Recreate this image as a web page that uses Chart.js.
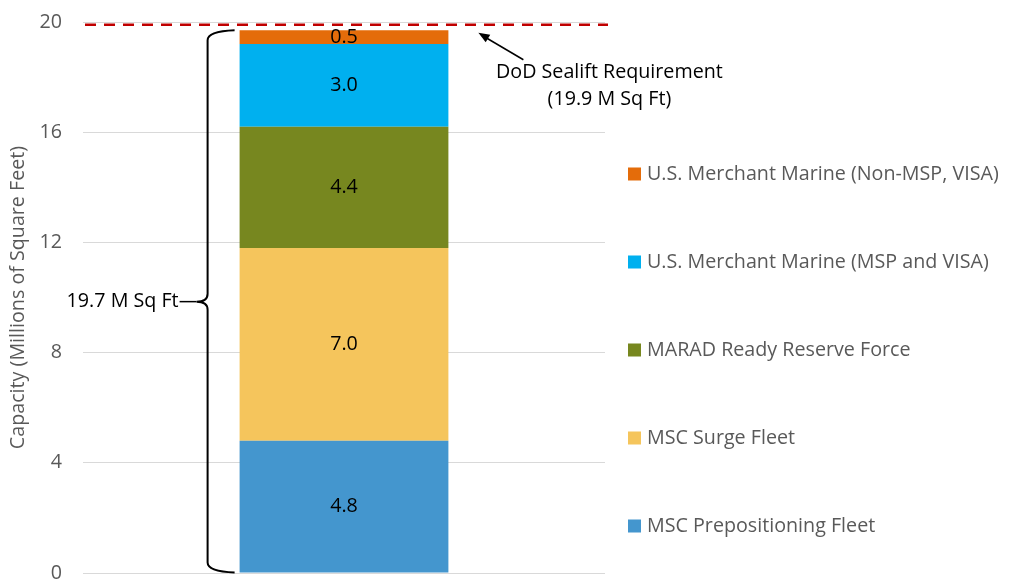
<!DOCTYPE html>
<html>
<head>
<meta charset="utf-8">
<script src="https://cdn.jsdelivr.net/npm/chart.js@4"></script>
<style>
  html, body { margin: 0; padding: 0; background: #fff; overflow: hidden; }
  #wrap { position: relative; width: 1010px; height: 579px; }
</style>
</head>
<body>
<div id="wrap"><canvas id="chart"></canvas></div>
<script>
// data
const categories = ['Capacity'];
const seriesNames = [
  'MSC Prepositioning Fleet',
  'MSC Surge Fleet',
  'MARAD Ready Reserve Force',
  'U.S. Merchant Marine (MSP and VISA)',
  'U.S. Merchant Marine (Non-MSP, VISA)'
];
const seriesValues = [4.8, 7.0, 4.4, 3.0, 0.5];
const seriesColors = ['#4496CE', '#F5C55C', '#77871F', '#00B0EF', '#E46C0A'];
const yTicks = [0, 4, 8, 12, 16, 20];
const requirement = 19.9;
const totalLabel = '19.7 M Sq Ft';
const reqLabel = ['DoD Sealift Requirement', '(19.9 M Sq Ft)'];

const FONT = '"Open Sans", sans-serif';
const FS = 19.7;

const datasets = seriesNames.map((name, i) => ({
  label: name,
  data: [seriesValues[i]],
  backgroundColor: seriesColors[i],
  borderWidth: 0,
  barPercentage: 0.4,
  categoryPercentage: 1
}));

// value labels, requirement line, brace, legend
const extras = {
  id: 'extras',
  afterDatasetsDraw(chart) {
    const ctx = chart.ctx;
    const y = chart.scales.y;
    const area = chart.chartArea;

    // labels inside segments
    ctx.save();
    ctx.font = FS + 'px ' + FONT;
    ctx.fillStyle = '#000';
    ctx.textAlign = 'center';
    ctx.textBaseline = 'middle';
    chart.data.datasets.forEach((ds, i) => {
      const bar = chart.getDatasetMeta(i).data[0];
      ctx.fillText(ds.data[0].toFixed(1), bar.x, (bar.y + bar.base) / 2);
    });
    ctx.restore();

    // requirement line
    const ry = y.getPixelForValue(requirement);
    ctx.save();
    ctx.strokeStyle = '#C00000';
    ctx.lineWidth = 2.5;
    ctx.setLineDash([11, 8]);
    ctx.beginPath();
    ctx.moveTo(area.left + 2, ry);
    ctx.lineTo(area.right + 3, ry);
    ctx.stroke();
    ctx.restore();

    // brace
    const first = chart.getDatasetMeta(0).data[0];
    const last = chart.getDatasetMeta(chart.data.datasets.length - 1).data[0];
    const xL = first.x - first.width / 2;
    const xR = first.x + first.width / 2;
    const total = seriesValues.reduce((a, b) => a + b, 0);
    const yTop = last.y;
    const yBot = first.base;
    const yMid = y.getPixelForValue(total / 2);
    const xV = xL - 32;
    const xTip = xV - 11;
    ctx.save();
    ctx.strokeStyle = '#000';
    ctx.lineWidth = 2;
    ctx.beginPath();
    ctx.moveTo(xL - 5, yTop);
    ctx.quadraticCurveTo(xV, yTop + 1, xV, yTop + 10);
    ctx.lineTo(xV, yMid - 8);
    ctx.quadraticCurveTo(xV, yMid, xTip, yMid);
    ctx.quadraticCurveTo(xV, yMid, xV, yMid + 8);
    ctx.lineTo(xV, yBot - 10);
    ctx.quadraticCurveTo(xV, yBot - 1, xL - 5, yBot);
    ctx.stroke();
    ctx.lineWidth = 1.5;
    ctx.beginPath();
    ctx.moveTo(xTip, yMid);
    ctx.lineTo(xTip - 17, yMid);
    ctx.stroke();
    ctx.font = FS + 'px ' + FONT;
    ctx.fillStyle = '#000';
    ctx.textAlign = 'right';
    ctx.textBaseline = 'middle';
    ctx.fillText(totalLabel, xTip - 18, yMid);

    // requirement annotation with arrow
    const hx = xR + 30, hy = ry + 8;
    const tx = xR + 75, ty = ry + 35;
    ctx.lineWidth = 1.5;
    ctx.beginPath();
    ctx.moveTo(tx, ty);
    ctx.lineTo(hx + 6, hy + 4);
    ctx.stroke();
    const ang = Math.atan2(hy - ty, hx - tx);
    ctx.beginPath();
    ctx.moveTo(hx, hy);
    ctx.lineTo(hx - 12 * Math.cos(ang - 0.38), hy - 12 * Math.sin(ang - 0.38));
    ctx.lineTo(hx - 12 * Math.cos(ang + 0.38), hy - 12 * Math.sin(ang + 0.38));
    ctx.closePath();
    ctx.fill();
    ctx.textAlign = 'center';
    ctx.fillText(reqLabel[0], xR + 161, ry + 48);
    ctx.fillText(reqLabel[1], xR + 161, ry + 75);
    ctx.restore();

    // legend (reverse order, top = last series)
    ctx.save();
    ctx.font = FS + 'px ' + FONT;
    ctx.textAlign = 'left';
    ctx.textBaseline = 'middle';
    const n = chart.data.datasets.length;
    for (let k = 0; k < n; k++) {
      const ds = chart.data.datasets[n - 1 - k];
      const ly = 174 + k * 88;
      ctx.fillStyle = ds.backgroundColor;
      ctx.fillRect(628, ly - 6.5, 13, 13);
      ctx.fillStyle = '#595959';
      ctx.fillText(ds.label, 647, ly);
    }
    ctx.restore();
  }
};

new Chart(document.getElementById('chart'), {
  type: 'bar',
  data: { labels: categories, datasets: datasets },
  options: {
    responsive: true,
    maintainAspectRatio: false,
    animation: false,
    layout: { padding: { top: 22, right: 405, bottom: 6, left: 0 } },
    plugins: {
      legend: { display: false },
      tooltip: { enabled: false }
    },
    scales: {
      x: { stacked: true, display: false },
      y: {
        stacked: true,
        min: 0,
        max: 20,
        afterBuildTicks: s => { s.ticks = yTicks.map(v => ({ value: v })); },
        afterFit: s => {
          s.width = 83;
          s.paddingTop = 0;
          s.paddingBottom = 0;
        },
        grid: { color: '#d9d9d9', lineWidth: 1, drawTicks: false },
        border: { display: false },
        ticks: { padding: 21, color: '#595959', font: { family: FONT, size: FS } },
        title: {
          display: true,
          text: 'Capacity (Millions of Square Feet)',
          color: '#595959',
          font: { family: FONT, size: FS },
          padding: { top: 7, bottom: 0 }
        }
      }
    }
  },
  plugins: [extras]
});
</script>
</body>
</html>
